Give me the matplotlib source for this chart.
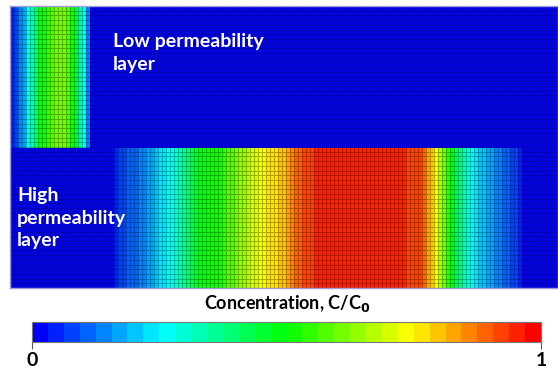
import numpy as np
import matplotlib
matplotlib.use("Agg")
import matplotlib.pyplot as plt
from matplotlib.colors import ListedColormap, hsv_to_rgb

# ---------------- data ----------------
n_cols = 137          # grid columns across the domain
n_rows_layer = 30     # grid rows per layer

# concentration C/C0 per grid column, low permeability (upper) layer plume
upper_start_col = 0
upper_conc = [0.06, 0.09, 0.13, 0.18, 0.25, 0.32, 0.40, 0.47, 0.51, 0.55,
              0.58, 0.61, 0.62, 0.62, 0.58, 0.52, 0.44, 0.35, 0.26, 0.15]

# concentration C/C0 per grid column, high permeability (lower) layer plume
lower_start_col = 26
lower_conc = [0.05, 0.07, 0.09, 0.10, 0.11, 0.12, 0.13, 0.14, 0.16, 0.18,
              0.20, 0.22, 0.24, 0.26, 0.28, 0.30, 0.32, 0.35, 0.38, 0.41,
              0.44, 0.47, 0.49, 0.50, 0.51, 0.52, 0.53, 0.55, 0.57, 0.59,
              0.61, 0.63, 0.65, 0.67, 0.69, 0.70, 0.72, 0.73, 0.75, 0.76,
              0.77, 0.79, 0.81, 0.83, 0.86, 0.88, 0.90, 0.92, 0.93, 0.93,
              0.94, 0.94, 0.94, 0.95, 0.95, 0.95, 0.95, 0.95, 0.95, 0.95,
              0.95, 0.95, 0.95, 0.95, 0.95, 0.95, 0.95, 0.95, 0.95, 0.94,
              0.94, 0.94,
              0.94, 0.93, 0.93, 0.92, 0.91, 0.88, 0.84, 0.79, 0.74, 0.68,
              0.61, 0.55, 0.49, 0.43, 0.38, 0.33, 0.29, 0.26, 0.23, 0.21,
              0.19, 0.17, 0.16, 0.14, 0.13, 0.11, 0.10, 0.08, 0.07, 0.05]

cbar_ticks = [0, 1]
cbar_ticklabels = ["0", "1"]
n_levels = 32

# ---------------- build field ----------------
upper_row = np.zeros(n_cols)
upper_row[upper_start_col:upper_start_col + len(upper_conc)] = upper_conc
lower_row = np.zeros(n_cols)
lower_row[lower_start_col:lower_start_col + len(lower_conc)] = lower_conc
Z = np.vstack([np.tile(lower_row, (n_rows_layer, 1)),
               np.tile(upper_row, (n_rows_layer, 1))])

hues = np.linspace(240, 0, n_levels) / 360.0
cmap = ListedColormap([hsv_to_rgb((h, 1.0, 1.0)) for h in hues])

W, H = 558, 372
fig = plt.figure(figsize=(W / 100, H / 100), dpi=100)
fig.patch.set_facecolor("white")

ax = fig.add_axes([10 / W, (H - 288) / H, 548 / W, 282 / H])
mesh = ax.pcolormesh(np.arange(n_cols + 1), np.arange(2 * n_rows_layer + 1), Z,
                     cmap=cmap, vmin=0, vmax=1,
                     edgecolors=(0, 0, 0, 0.3), linewidth=0.6)
ax.set_xlim(0, n_cols)
ax.set_ylim(0, 2 * n_rows_layer)
ax.set_xticks([])
ax.set_yticks([])
for s in ax.spines.values():
    s.set_color("#a0a0d8")
    s.set_linewidth(1.0)

font = "Lato"
txt_kw = dict(color="white", fontsize=14, fontweight="bold", family=font,
              ha="left", va="baseline")
fig.text(113 / W, 1 - 47 / H, "Low permeability", **txt_kw)
fig.text(113 / W, 1 - 70 / H, "layer", **txt_kw)
fig.text(17 / W, 1 - 201 / H, "High", **txt_kw)
fig.text(17 / W, 1 - 224 / H, "permeability", **txt_kw)
fig.text(17 / W, 1 - 246 / H, "layer", **txt_kw)

cax = fig.add_axes([32 / W, (H - 342) / H, 509 / W, 20 / H])
cb = fig.colorbar(mesh, cax=cax, orientation="horizontal", ticks=cbar_ticks)
cb.ax.set_xticklabels(cbar_ticklabels, fontsize=14, fontweight="bold", family=font)
cb.ax.tick_params(length=5, width=0.8, color="#555555", pad=2)
cb.outline.set_edgecolor("#777777")
cb.outline.set_linewidth(0.8)

fig.text(287 / W, 1 - 309 / H, r"Concentration, C/C$_\mathbf{0}$", ha="center",
         va="baseline", fontsize=13, fontweight="bold", family=font,
         color="black")

fig.savefig("out.png", dpi=100)
